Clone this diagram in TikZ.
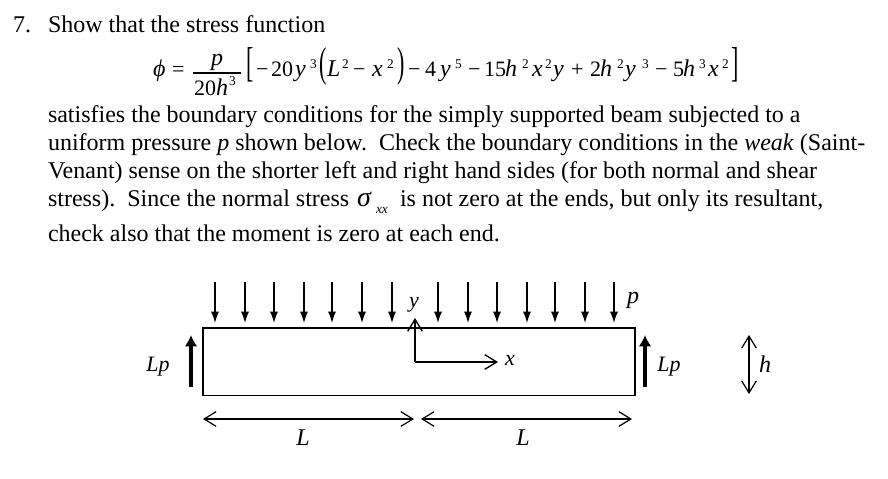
\documentclass[tikz,border=0pt]{standalone}
\usepackage{fontspec}
\usepackage{graphicx}
\setmainfont{Liberation Serif}
\usetikzlibrary{arrows.meta}
\newcommand{\pw}{\fontsize{18pt}{22pt}\selectfont}
\newcommand{\pe}{\fontsize{16.5pt}{20pt}\selectfont}
\newcommand{\ps}{\fontsize{10pt}{11pt}\selectfont}
\newcommand{\il}[1]{{\pw\itshape #1}}
\tikzset{
  x=0.75pt,y=-0.75pt,
  txt/.style={anchor=base west,inner sep=0pt,outer sep=0pt,font=\pw},
  mid/.style={anchor=base,inner sep=0pt,outer sep=0pt,font=\pw\itshape},
  eq/.style={anchor=base west,inner sep=0pt,outer sep=0pt,font=\pe},
  eqs/.style={anchor=base west,inner sep=0pt,outer sep=0pt,font=\ps},
  loadarrow/.style={line width=0.9pt,-{Latex[length=8.5pt,width=6pt]}},
  reaction/.style={line width=2.3pt,-{Latex[length=8.5pt,width=9.5pt]}},
  dimarrow/.style={line width=0.9pt,{Straight Barb[length=9pt,width=11pt]}-{Straight Barb[length=9pt,width=11pt]}},
  axisarrow/.style={line width=1pt,-{Straight Barb[length=9pt,width=11pt]}},
}
\begin{document}
\begin{tikzpicture}
\useasboundingbox (0,0) rectangle (888,478);
\fill[white] (0,0) rectangle (888,478);
% problem text
\node[txt] (n7) at (13,33) {7.};
\node[txt] (t0) at (48,33) {Show that the stress function};
\node[txt] (t1) at (48,122) {satisfies the boundary conditions for the simply supported beam subjected to a};
\node[txt] (t2) at (48,150) {uniform pressure \textit{p} shown below.\ \ Check the boundary conditions in the \textit{weak} (Saint-};
\node[txt] (t3) at (48,178) {Venant) sense on the shorter left and right hand sides (for both normal and shear};
\node[txt] (t4a) at (48,206) {stress).\ \ Since the normal stress};
\node[txt,font=\fontsize{21pt}{22pt}\selectfont] (t4s) at (357,206) {\textit{σ}};
\node[eqs,font=\fontsize{10pt}{10pt}\selectfont\itshape] (t4x) at (376,213) {xx};
\node[txt] (t4b) at (400,206) {is not zero at the ends, but only its resultant,};
\node[txt] (t5) at (48,241) {check also that the moment is zero at each end.};
% equation, main line
\foreach \i/\x/\t in {1/153/\il{ϕ},2/172/=,6/256/−,7/271/20,8/295/\il{y},10/327/\il{L},11/353/−,12/372/\il{x},14/408/−,15/425/4,16/440/\il{y},17/468/−,18/484/15,19/505/\il{h},20/532/\il{x},21/553/\il{y},22/571/+,23/590/2,24/600/\il{h},25/625/\il{y},26/655/−,27/673/5,28/683/\il{h},29/708/\il{x}}{
  \node[eq] (e\i) at (\x,77) {\t};
}
% equation, exponents
\foreach \i/\x/\t in {1/310/3,2/342/2,3/387/2,4/455/5,5/522/2,6/545/2,7/617/2,8/642/3,9/699/3,10/722/2}{
  \node[eqs] (s\i) at (\x,69) {\t};
}
% brackets and parentheses
\node[eq] (b1) at (246,77) {\scalebox{1}[1.9]{[}};
\node[eq] (b2) at (319,77) {\scalebox{1}[1.9]{(}};
\node[eq] (b3) at (397,77) {\scalebox{1}[1.9]{)}};
\node[eq] (b4) at (731,77) {\scalebox{1}[1.9]{]}};
% fraction
\node[mid] (fp) at (217,65) {p};
\coordinate (barL) at (193,73);
\coordinate (barR) at (241,73);
\draw[line width=0.8pt] (barL) -- (barR);
\node[eq] (f20) at (194,95) {20};
\node[eq] (fh) at (216,95) {\il{h}};
\node[eqs] (f3) at (229,85) {3};
% beam
\node[draw,line width=1.1pt,minimum width=324pt,minimum height=50.6pt,inner sep=0pt,outer sep=0pt] (beam) at (419,361.75) {};
% loads
\foreach \i/\x in {1/215,2/245,3/274,4/304,5/332,6/362,7/392,8/438,9/468,10/497,11/527,12/555,13/585,14/614}{
  \coordinate (la\i) at (\x,282);
  \coordinate (lb\i) at (\x,323);
  \draw[loadarrow] (la\i) -- (lb\i);
}
% reactions
\coordinate (ra) at (191,387); \coordinate (rb) at (191,335);
\draw[reaction] (ra) -- (rb);
\coordinate (rc) at (645,387); \coordinate (rd) at (645,335);
\draw[reaction] (rc) -- (rd);
% axes
\coordinate (o) at (415,362);
\coordinate (ya) at (415,318);
\coordinate (xa) at (498,362);
\draw[axisarrow] (o) -- (ya);
\draw[axisarrow] (o) -- (xa);
% dimensions
\coordinate (d1) at (203,419); \coordinate (d2) at (414,419);
\coordinate (d3) at (421,419); \coordinate (d4) at (632,419);
\coordinate (d5) at (749,335); \coordinate (d6) at (749,394);
\draw[dimarrow] (d1) -- (d2);
\draw[dimarrow] (d3) -- (d4);
\draw[dimarrow] (d5) -- (d6);
% labels
\node[mid,font=\pe\itshape] (ly) at (414,307) {y};
\node[mid,font=\pe\itshape] (lx) at (510,365) {x};
\node[mid] (lp) at (633,303) {p};
\node[mid,font=\pe\itshape] (llp1) at (158,371) {Lp};
\node[mid,font=\pe\itshape] (llp2) at (669,371) {Lp};
\node[mid] (lh) at (765,372) {h};
\node[mid] (lL1) at (303,445) {L};
\node[mid] (lL2) at (523,445) {L};
\end{tikzpicture}
\end{document}
